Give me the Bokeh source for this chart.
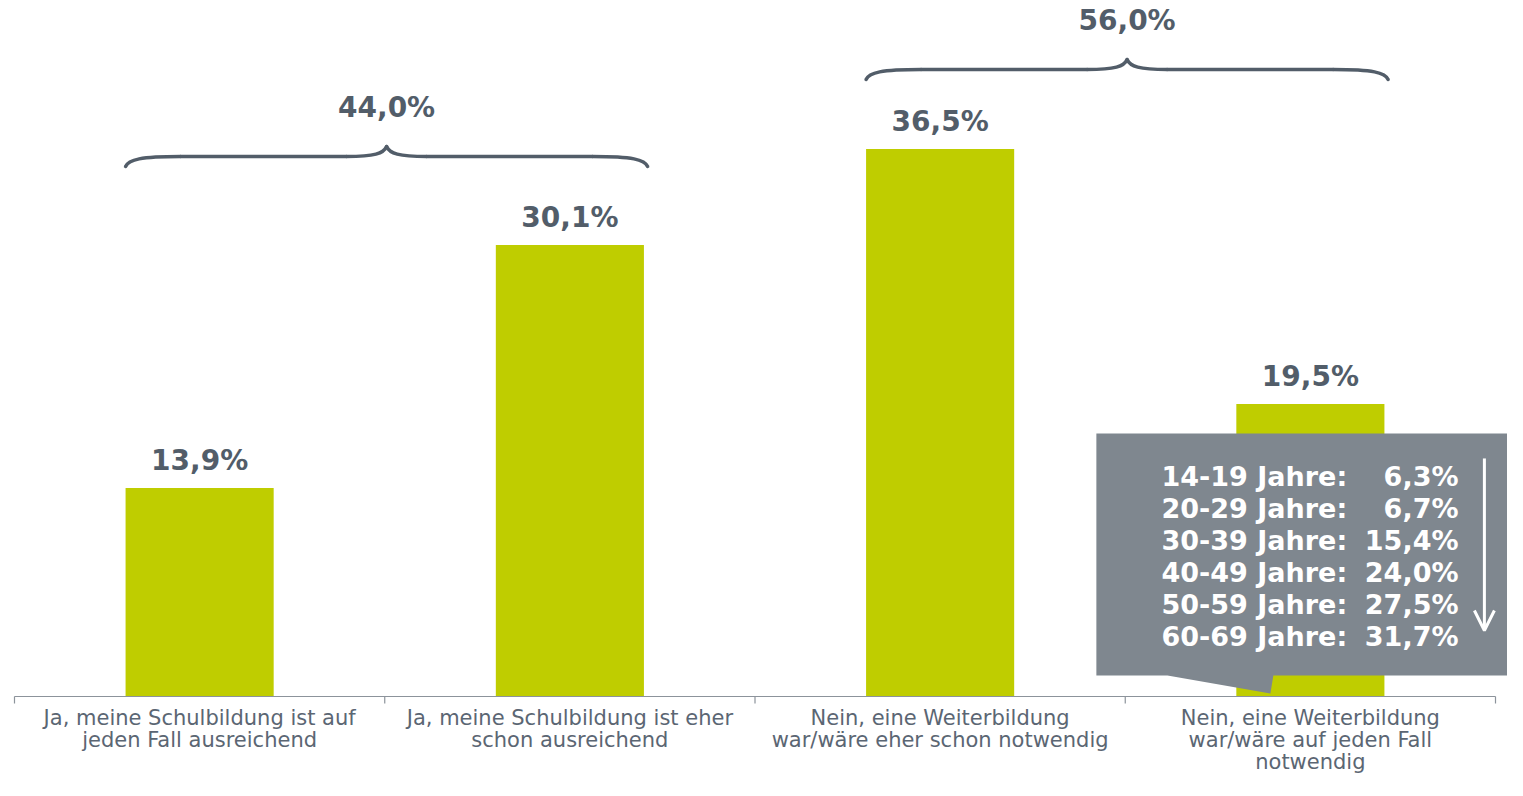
from bokeh.plotting import figure
from bokeh.models import Range1d, ColumnDataSource, Arrow, OpenHead
from bokeh.core.properties import value
from bokeh.embed import file_html
from bokeh.resources import INLINE

# ---------------- data ----------------
categories = [
    "Ja, meine Schulbildung ist auf\njeden Fall ausreichend",
    "Ja, meine Schulbildung ist eher\nschon ausreichend",
    "Nein, eine Weiterbildung\nwar/wäre eher schon notwendig",
    "Nein, eine Weiterbildung\nwar/wäre auf jeden Fall\nnotwendig",
]
values = [13.9, 30.1, 36.5, 19.5]
groups = [[0, 1], [2, 3]]            # bars combined by the braces
group_levels = [36.0, 41.8]          # height of each brace (in %)
age_groups = ["14-19", "20-29", "30-39", "40-49", "50-59", "60-69"]
age_values = [6.3, 6.7, 15.4, 24.0, 27.5, 31.7]
callout_bar = 3                      # bar that the callout box refers to


def de(v):
    return f"{v:.1f}".replace(".", ",") + "%"


# ---------------- layout ----------------
W, H = 1507, 780
X0, X1 = -0.5378, 3.5324
Y0, Y1 = -5.6, 46.4
kx = (X1 - X0) / W   # data units per px
ky = (Y1 - Y0) / H

BAR = "#bfcd00"
DARK = "#525d69"
LABEL = "#5b6673"
GREY = "#7f878f"
AXIS = "#8c939b"

p = figure(width=W, height=H, x_range=Range1d(X0, X1), y_range=Range1d(Y0, Y1),
           output_backend="svg", toolbar_location=None,
           x_axis_location=None, y_axis_location=None, min_border=0)
p.outline_line_color = None
p.grid.visible = False
p.background_fill_color = "white"

xs = list(range(len(values)))
src = ColumnDataSource(dict(x=xs, top=values, lab=[de(v) for v in values], cat=categories))

# bars
p.vbar(x="x", top="top", bottom=0, width=0.4, source=src, fill_color=BAR, line_color=None)

# baseline and separating ticks
n = len(values)
p.segment(x0=[-0.5], x1=[n - 0.5], y0=[0], y1=[0], line_color=AXIS, line_width=1.2)
bounds = [i - 0.5 for i in range(n + 1)]
p.segment(x0=bounds, x1=bounds, y0=[0] * len(bounds), y1=[-7 * ky] * len(bounds),
          line_color=AXIS, line_width=1.2)

# value labels
p.text(x="x", y="top", text="lab", source=src, y_offset=-28,
       text_align="center", text_baseline="alphabetic",
       text_font=value("DejaVu Sans"), text_font_style="bold",
       text_font_size="28px", text_color=DARK)

# category labels
p.text(x="x", y=0, text="cat", source=src, y_offset=9,
       text_align="center", text_baseline="top",
       text_font=value("DejaVu Sans"), text_font_size="21px",
       text_line_height=0.92, text_color=LABEL)

# braces
bz = dict(x0=[], y0=[], x1=[], y1=[], cx0=[], cy0=[], cx1=[], cy1=[])
sx0, sx1, sy = [], [], []
gl_x, gl_y, gl_t = [], [], []


def add_bz(a, b, c0, c1):
    bz["x0"].append(a[0]); bz["y0"].append(a[1])
    bz["x1"].append(b[0]); bz["y1"].append(b[1])
    bz["cx0"].append(c0[0]); bz["cy0"].append(c0[1])
    bz["cx1"].append(c1[0]); bz["cy1"].append(c1[1])


for g, lvl in zip(groups, group_levels):
    xa = g[0] - 0.2
    xb = g[-1] + 0.21
    xm = (xa + xb) / 2
    y = lvl
    for s, xe in ((1, xa), (-1, xb)):
        add_bz((xe, y - 10 * ky), (xe + s * 55 * kx, y),
               (xe + s * 3 * kx, y - 3 * ky), (xe + s * 15 * kx, y))
        add_bz((xm - s * 40 * kx, y), (xm, y + 10 * ky),
               (xm - s * 12 * kx, y), (xm - s * 3 * kx, y + 3 * ky))
        sx0.append(xe + s * 55 * kx); sx1.append(xm - s * 40 * kx); sy.append(y)
    gl_x.append(xm); gl_y.append(y); gl_t.append(de(sum(values[i] for i in g)))

p.bezier(source=ColumnDataSource(bz), x0="x0", y0="y0", x1="x1", y1="y1",
         cx0="cx0", cy0="cy0", cx1="cx1", cy1="cy1",
         line_color=DARK, line_width=3.5, line_cap="round")
p.segment(x0=sx0, x1=sx1, y0=sy, y1=sy, line_color=DARK, line_width=3.5, line_cap="round")
p.text(x=gl_x, y=gl_y, text=gl_t, y_offset=-49, text_align="center",
       text_baseline="alphabetic", text_font=value("DejaVu Sans"),
       text_font_style="bold", text_font_size="28px", text_color=DARK)

# callout box with pointer
c = callout_bar
bx0, bx1 = c - 0.578, c + 0.578
by0, by1 = 1.4, 17.53
poly_x = [bx0, bx1, bx1, c - 0.10, c - 0.108, c - 0.386, bx0]
poly_y = [by1, by1, by0, by0, 0.2, by0, by0]
p.patch(poly_x, poly_y, fill_color=GREY, line_color=None)

line_y = [14.67 - i * 2.133 for i in range(len(age_groups))]
p.text(x=[c - 0.402] * len(age_groups), y=line_y, text=[a + " Jahre:" for a in age_groups],
       text_align="left", text_baseline="middle", text_font=value("DejaVu Sans"),
       text_font_style="bold", text_font_size="27px", text_color="white")
p.text(x=[c + 0.400] * len(age_values), y=line_y, text=[de(v) for v in age_values],
       text_align="right", text_baseline="middle", text_font=value("DejaVu Sans"),
       text_font_style="bold", text_font_size="27px", text_color="white")

p.add_layout(Arrow(x_start=c + 0.47, y_start=15.87, x_end=c + 0.47, y_end=4.4,
                   line_color="white", line_width=3,
                   end=OpenHead(size=20, line_color="white", line_width=3)))

open("out.html", "w").write(file_html(p, INLINE))
